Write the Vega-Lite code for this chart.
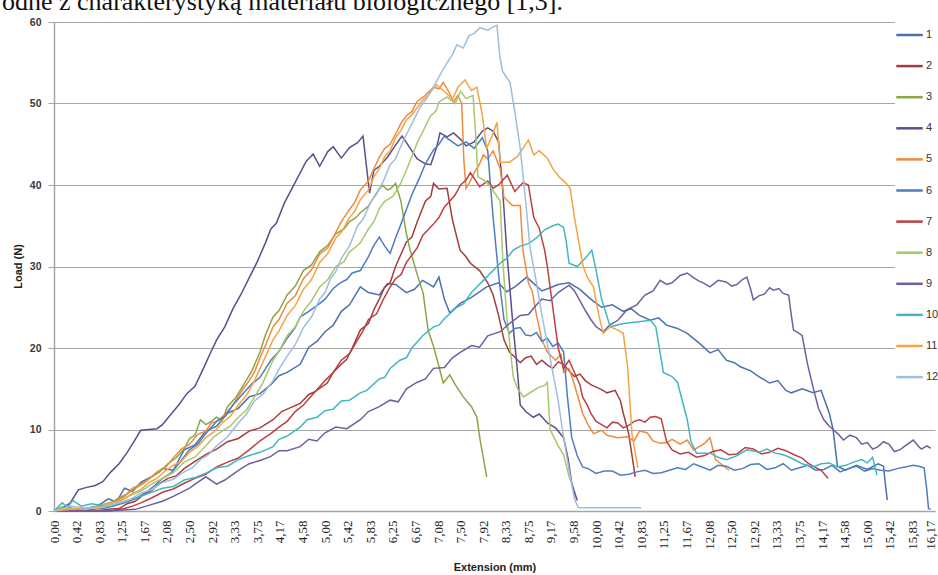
{
"$schema": "https://vega.github.io/schema/vega-lite/v6.json",
"width": 881, "height": 489,
"autosize": {"type": "none"},
"padding": {"left": 54, "top": 22, "right": 3, "bottom": 64},
"background": "white",
"config": {"view": {"stroke": null}, "title": {"font": "Liberation Serif", "fontSize": 26, "fontWeight": "normal", "color": "#111111"}},
"title": {"text": "odne z charakterystyką materiału biologicznego [1,3].", "anchor": "start", "frame": "group", "dx": -52, "dy": 25, "offset": 6, "baseline": "alphabetic", "font": "Liberation Serif", "fontSize": 26, "fontWeight": "normal", "color": "#111111", "limit": 0},
"data": {"values": [
{"s":"1","x":0,"y":0},{"s":"1","x":0.3,"y":0.1},{"s":"1","x":0.5,"y":0.2},{"s":"1","x":0.8,"y":0.6},{"s":"1","x":1.0,"y":1.5},{"s":"1","x":1.15,"y":1.1},{"s":"1","x":1.3,"y":2.8},{"s":"1","x":1.45,"y":2.4},{"s":"1","x":1.6,"y":3.5},{"s":"1","x":1.8,"y":4.2},{"s":"1","x":2.0,"y":5.2},{"s":"1","x":2.2,"y":5.0},{"s":"1","x":2.4,"y":7.5},{"s":"1","x":2.6,"y":8.1},{"s":"1","x":2.8,"y":9.8},{"s":"1","x":3.0,"y":10.4},{"s":"1","x":3.2,"y":12.0},{"s":"1","x":3.4,"y":12.6},{"s":"1","x":3.6,"y":14.0},{"s":"1","x":3.8,"y":14.4},{"s":"1","x":4.0,"y":15.5},{"s":"1","x":4.15,"y":16.6},{"s":"1","x":4.3,"y":17.0},{"s":"1","x":4.54,"y":18.0},{"s":"1","x":4.7,"y":20.1},{"s":"1","x":4.85,"y":20.8},{"s":"1","x":5.0,"y":22.0},{"s":"1","x":5.15,"y":22.8},{"s":"1","x":5.3,"y":24.5},{"s":"1","x":5.45,"y":25.3},{"s":"1","x":5.65,"y":27.5},{"s":"1","x":5.8,"y":26.8},{"s":"1","x":6.0,"y":26.5},{"s":"1","x":6.15,"y":27.9},{"s":"1","x":6.3,"y":27.8},{"s":"1","x":6.5,"y":26.8},{"s":"1","x":6.65,"y":27.2},{"s":"1","x":6.8,"y":28.3},{"s":"1","x":7.0,"y":27.5},{"s":"1","x":7.1,"y":28.7},{"s":"1","x":7.2,"y":26.0},{"s":"1","x":7.3,"y":24.3},{"s":"1","x":7.4,"y":24.9},{"s":"1","x":7.5,"y":25.5},{"s":"1","x":7.7,"y":26.2},{"s":"1","x":7.98,"y":27.5},{"s":"1","x":8.2,"y":28.0},{"s":"1","x":8.35,"y":26.9},{"s":"1","x":8.5,"y":27.5},{"s":"1","x":8.72,"y":28.7},{"s":"1","x":8.85,"y":27.9},{"s":"1","x":9.0,"y":27.0},{"s":"1","x":9.15,"y":27.4},{"s":"1","x":9.3,"y":27.8},{"s":"1","x":9.5,"y":28.0},{"s":"1","x":9.7,"y":27.2},{"s":"1","x":9.9,"y":26.0},{"s":"1","x":10.1,"y":25.0},{"s":"1","x":10.3,"y":25.3},{"s":"1","x":10.5,"y":24.5},{"s":"1","x":10.65,"y":24.8},{"s":"1","x":10.8,"y":24.0},{"s":"1","x":11.0,"y":23.4},{"s":"1","x":11.15,"y":23.7},{"s":"1","x":11.3,"y":22.8},{"s":"1","x":11.5,"y":22.4},{"s":"1","x":11.68,"y":21.8},{"s":"1","x":11.9,"y":20.6},{"s":"1","x":12.1,"y":19.4},{"s":"1","x":12.25,"y":19.8},{"s":"1","x":12.4,"y":18.5},{"s":"1","x":12.55,"y":18.2},{"s":"1","x":12.66,"y":17.7},{"s":"1","x":12.85,"y":17.2},{"s":"1","x":13.0,"y":16.5},{"s":"1","x":13.2,"y":15.7},{"s":"1","x":13.35,"y":16.0},{"s":"1","x":13.5,"y":14.8},{"s":"1","x":13.6,"y":14.5},{"s":"1","x":13.8,"y":15.0},{"s":"1","x":14.0,"y":14.5},{"s":"1","x":14.15,"y":14.8},{"s":"1","x":14.3,"y":12.0},{"s":"1","x":14.37,"y":10.0},{"s":"1","x":14.45,"y":5.5},{"s":"1","x":14.6,"y":5.0},{"s":"1","x":14.8,"y":5.6},{"s":"1","x":15.0,"y":5.1},{"s":"1","x":15.2,"y":5.8},{"s":"1","x":15.3,"y":5.5},{"s":"1","x":15.34,"y":3.0},{"s":"1","x":15.37,"y":1.35},
{"s":"2","x":0,"y":0},{"s":"2","x":0.8,"y":0},{"s":"2","x":1.0,"y":0.2},{"s":"2","x":1.2,"y":0.3},{"s":"2","x":1.35,"y":0.9},{"s":"2","x":1.5,"y":1.2},{"s":"2","x":1.65,"y":2.0},{"s":"2","x":1.8,"y":2.5},{"s":"2","x":1.95,"y":3.4},{"s":"2","x":2.1,"y":4.0},{"s":"2","x":2.25,"y":4.3},{"s":"2","x":2.4,"y":5.2},{"s":"2","x":2.6,"y":6.1},{"s":"2","x":2.82,"y":7.0},{"s":"2","x":3.0,"y":7.6},{"s":"2","x":3.2,"y":8.5},{"s":"2","x":3.4,"y":8.9},{"s":"2","x":3.6,"y":9.8},{"s":"2","x":3.8,"y":10.2},{"s":"2","x":4.04,"y":11.2},{"s":"2","x":4.2,"y":12.2},{"s":"2","x":4.3,"y":12.5},{"s":"2","x":4.54,"y":13.2},{"s":"2","x":4.7,"y":14.3},{"s":"2","x":4.8,"y":14.6},{"s":"2","x":5.04,"y":15.7},{"s":"2","x":5.15,"y":17.0},{"s":"2","x":5.3,"y":18.0},{"s":"2","x":5.4,"y":18.6},{"s":"2","x":5.5,"y":20.0},{"s":"2","x":5.65,"y":22.2},{"s":"2","x":5.8,"y":23.0},{"s":"2","x":5.9,"y":24.7},{"s":"2","x":6.0,"y":26.0},{"s":"2","x":6.1,"y":27.5},{"s":"2","x":6.2,"y":28.0},{"s":"2","x":6.3,"y":30.0},{"s":"2","x":6.4,"y":31.5},{"s":"2","x":6.5,"y":33.0},{"s":"2","x":6.6,"y":33.6},{"s":"2","x":6.7,"y":35.5},{"s":"2","x":6.85,"y":38.0},{"s":"2","x":6.95,"y":38.6},{"s":"2","x":7.0,"y":40.2},{"s":"2","x":7.1,"y":39.5},{"s":"2","x":7.25,"y":39.6},{"s":"2","x":7.35,"y":35.7},{"s":"2","x":7.49,"y":32.0},{"s":"2","x":7.6,"y":31.2},{"s":"2","x":7.68,"y":30.4},{"s":"2","x":7.85,"y":29.5},{"s":"2","x":8.0,"y":28.0},{"s":"2","x":8.1,"y":26.5},{"s":"2","x":8.2,"y":24.0},{"s":"2","x":8.3,"y":21.0},{"s":"2","x":8.4,"y":19.5},{"s":"2","x":8.5,"y":18.9},{"s":"2","x":8.6,"y":18.2},{"s":"2","x":8.7,"y":18.8},{"s":"2","x":8.8,"y":19.0},{"s":"2","x":8.9,"y":18.0},{"s":"2","x":9.0,"y":18.5},{"s":"2","x":9.1,"y":17.9},{"s":"2","x":9.2,"y":17.5},{"s":"2","x":9.3,"y":18.3},{"s":"2","x":9.4,"y":18.0},{"s":"2","x":9.5,"y":17.2},{"s":"2","x":9.6,"y":16.5},{"s":"2","x":9.7,"y":16.8},{"s":"2","x":9.8,"y":16.0},{"s":"2","x":9.9,"y":15.5},{"s":"2","x":10.0,"y":15.2},{"s":"2","x":10.1,"y":14.9},{"s":"2","x":10.2,"y":14.5},{"s":"2","x":10.35,"y":14.8},{"s":"2","x":10.45,"y":13.5},{"s":"2","x":10.5,"y":12.0},{"s":"2","x":10.6,"y":9.5},{"s":"2","x":10.68,"y":6.0},{"s":"2","x":10.72,"y":4.2},
{"s":"3","x":0,"y":0},{"s":"3","x":0.15,"y":0.5},{"s":"3","x":0.3,"y":0.4},{"s":"3","x":0.45,"y":0.1},{"s":"3","x":0.6,"y":0.2},{"s":"3","x":0.75,"y":0.5},{"s":"3","x":0.9,"y":0.8},{"s":"3","x":1.05,"y":1.0},{"s":"3","x":1.2,"y":1.6},{"s":"3","x":1.35,"y":2.1},{"s":"3","x":1.5,"y":2.8},{"s":"3","x":1.65,"y":3.4},{"s":"3","x":1.8,"y":4.2},{"s":"3","x":1.95,"y":4.8},{"s":"3","x":2.1,"y":5.8},{"s":"3","x":2.25,"y":6.5},{"s":"3","x":2.4,"y":7.6},{"s":"3","x":2.5,"y":8.9},{"s":"3","x":2.6,"y":9.3},{"s":"3","x":2.7,"y":11.2},{"s":"3","x":2.8,"y":10.6},{"s":"3","x":2.9,"y":11.0},{"s":"3","x":3.0,"y":11.5},{"s":"3","x":3.1,"y":11.1},{"s":"3","x":3.2,"y":12.8},{"s":"3","x":3.35,"y":13.9},{"s":"3","x":3.5,"y":15.5},{"s":"3","x":3.65,"y":17.2},{"s":"3","x":3.8,"y":19.5},{"s":"3","x":3.9,"y":21.6},{"s":"3","x":4.04,"y":23.8},{"s":"3","x":4.15,"y":24.6},{"s":"3","x":4.3,"y":26.5},{"s":"3","x":4.45,"y":27.6},{"s":"3","x":4.6,"y":29.5},{"s":"3","x":4.75,"y":30.2},{"s":"3","x":4.9,"y":31.8},{"s":"3","x":5.05,"y":32.6},{"s":"3","x":5.2,"y":34.0},{"s":"3","x":5.35,"y":34.6},{"s":"3","x":5.45,"y":35.5},{"s":"3","x":5.55,"y":35.9},{"s":"3","x":5.65,"y":36.6},{"s":"3","x":5.8,"y":37.4},{"s":"3","x":5.9,"y":38.5},{"s":"3","x":6.05,"y":40.0},{"s":"3","x":6.15,"y":39.4},{"s":"3","x":6.2,"y":39.5},{"s":"3","x":6.3,"y":40.2},{"s":"3","x":6.4,"y":38.0},{"s":"3","x":6.5,"y":34.0},{"s":"3","x":6.57,"y":32.0},{"s":"3","x":6.7,"y":29.0},{"s":"3","x":6.81,"y":26.7},{"s":"3","x":6.9,"y":22.2},{"s":"3","x":7.0,"y":20.2},{"s":"3","x":7.07,"y":18.5},{"s":"3","x":7.18,"y":15.7},{"s":"3","x":7.3,"y":16.7},{"s":"3","x":7.4,"y":15.5},{"s":"3","x":7.55,"y":14.0},{"s":"3","x":7.7,"y":12.8},{"s":"3","x":7.8,"y":11.5},{"s":"3","x":7.86,"y":8.7},{"s":"3","x":7.92,"y":6.5},{"s":"3","x":7.98,"y":4.2},
{"s":"4","x":0,"y":0},{"s":"4","x":0.15,"y":0.3},{"s":"4","x":0.3,"y":1.0},{"s":"4","x":0.45,"y":2.6},{"s":"4","x":0.6,"y":2.9},{"s":"4","x":0.75,"y":3.1},{"s":"4","x":0.9,"y":3.6},{"s":"4","x":1.05,"y":4.8},{"s":"4","x":1.2,"y":5.8},{"s":"4","x":1.35,"y":7.2},{"s":"4","x":1.5,"y":8.8},{"s":"4","x":1.6,"y":9.9},{"s":"4","x":1.75,"y":10.0},{"s":"4","x":1.9,"y":10.1},{"s":"4","x":2.0,"y":10.6},{"s":"4","x":2.15,"y":11.8},{"s":"4","x":2.3,"y":13.0},{"s":"4","x":2.45,"y":14.4},{"s":"4","x":2.6,"y":15.3},{"s":"4","x":2.75,"y":17.4},{"s":"4","x":2.9,"y":19.6},{"s":"4","x":3.0,"y":21.0},{"s":"4","x":3.15,"y":22.6},{"s":"4","x":3.3,"y":24.8},{"s":"4","x":3.45,"y":26.6},{"s":"4","x":3.6,"y":28.6},{"s":"4","x":3.75,"y":30.6},{"s":"4","x":3.9,"y":32.9},{"s":"4","x":4.0,"y":34.6},{"s":"4","x":4.1,"y":35.3},{"s":"4","x":4.25,"y":37.8},{"s":"4","x":4.4,"y":39.7},{"s":"4","x":4.55,"y":41.6},{"s":"4","x":4.65,"y":42.9},{"s":"4","x":4.78,"y":43.8},{"s":"4","x":4.9,"y":42.3},{"s":"4","x":5.05,"y":44.1},{"s":"4","x":5.15,"y":44.7},{"s":"4","x":5.3,"y":43.3},{"s":"4","x":5.45,"y":44.6},{"s":"4","x":5.6,"y":45.2},{"s":"4","x":5.7,"y":46.0},{"s":"4","x":5.76,"y":42.5},{"s":"4","x":5.82,"y":39.0},{"s":"4","x":5.9,"y":41.8},{"s":"4","x":6.0,"y":42.3},{"s":"4","x":6.15,"y":43.4},{"s":"4","x":6.3,"y":44.9},{"s":"4","x":6.42,"y":46.0},{"s":"4","x":6.55,"y":44.7},{"s":"4","x":6.7,"y":43.2},{"s":"4","x":6.85,"y":42.6},{"s":"4","x":6.95,"y":42.5},{"s":"4","x":7.06,"y":44.7},{"s":"4","x":7.12,"y":46.4},{"s":"4","x":7.25,"y":45.9},{"s":"4","x":7.37,"y":46.4},{"s":"4","x":7.5,"y":45.6},{"s":"4","x":7.6,"y":44.8},{"s":"4","x":7.75,"y":45.3},{"s":"4","x":7.9,"y":46.6},{"s":"4","x":8.0,"y":47.0},{"s":"4","x":8.1,"y":46.6},{"s":"4","x":8.2,"y":45.3},{"s":"4","x":8.27,"y":40.0},{"s":"4","x":8.35,"y":32.0},{"s":"4","x":8.45,"y":24.0},{"s":"4","x":8.55,"y":17.0},{"s":"4","x":8.6,"y":13.0},{"s":"4","x":8.7,"y":12.2},{"s":"4","x":8.84,"y":11.5},{"s":"4","x":8.95,"y":11.9},{"s":"4","x":9.1,"y":10.8},{"s":"4","x":9.25,"y":10.2},{"s":"4","x":9.4,"y":9.0},{"s":"4","x":9.48,"y":6.5},{"s":"4","x":9.55,"y":3.4},{"s":"4","x":9.65,"y":1.3},
{"s":"5","x":0,"y":0},{"s":"5","x":0.3,"y":0.1},{"s":"5","x":0.5,"y":0.1},{"s":"5","x":0.8,"y":0.5},{"s":"5","x":1.0,"y":1.0},{"s":"5","x":1.15,"y":1.2},{"s":"5","x":1.3,"y":1.8},{"s":"5","x":1.45,"y":2.8},{"s":"5","x":1.6,"y":3.3},{"s":"5","x":1.75,"y":3.9},{"s":"5","x":1.9,"y":4.8},{"s":"5","x":2.05,"y":5.3},{"s":"5","x":2.2,"y":6.5},{"s":"5","x":2.35,"y":7.6},{"s":"5","x":2.5,"y":8.2},{"s":"5","x":2.65,"y":9.4},{"s":"5","x":2.8,"y":9.8},{"s":"5","x":2.9,"y":10.8},{"s":"5","x":3.0,"y":11.0},{"s":"5","x":3.15,"y":11.8},{"s":"5","x":3.3,"y":13.0},{"s":"5","x":3.45,"y":14.6},{"s":"5","x":3.6,"y":16.0},{"s":"5","x":3.7,"y":17.1},{"s":"5","x":3.8,"y":18.8},{"s":"5","x":3.9,"y":20.3},{"s":"5","x":4.04,"y":22.6},{"s":"5","x":4.15,"y":23.5},{"s":"5","x":4.3,"y":25.5},{"s":"5","x":4.45,"y":26.4},{"s":"5","x":4.6,"y":28.5},{"s":"5","x":4.75,"y":29.6},{"s":"5","x":4.9,"y":31.5},{"s":"5","x":5.05,"y":32.3},{"s":"5","x":5.2,"y":34.2},{"s":"5","x":5.3,"y":35.5},{"s":"5","x":5.45,"y":37.0},{"s":"5","x":5.55,"y":37.9},{"s":"5","x":5.65,"y":39.4},{"s":"5","x":5.8,"y":40.5},{"s":"5","x":5.9,"y":42.0},{"s":"5","x":6.0,"y":43.4},{"s":"5","x":6.1,"y":44.5},{"s":"5","x":6.2,"y":45.0},{"s":"5","x":6.32,"y":46.5},{"s":"5","x":6.4,"y":47.6},{"s":"5","x":6.5,"y":48.5},{"s":"5","x":6.6,"y":49.0},{"s":"5","x":6.69,"y":50.2},{"s":"5","x":6.85,"y":51.0},{"s":"5","x":7.0,"y":52.0},{"s":"5","x":7.1,"y":51.8},{"s":"5","x":7.18,"y":52.6},{"s":"5","x":7.3,"y":51.2},{"s":"5","x":7.37,"y":50.2},{"s":"5","x":7.45,"y":51.0},{"s":"5","x":7.52,"y":50.0},{"s":"5","x":7.56,"y":43.0},{"s":"5","x":7.6,"y":39.6},{"s":"5","x":7.68,"y":40.5},{"s":"5","x":7.75,"y":41.5},{"s":"5","x":7.85,"y":42.6},{"s":"5","x":7.92,"y":43.7},{"s":"5","x":8.0,"y":43.2},{"s":"5","x":8.1,"y":44.2},{"s":"5","x":8.23,"y":42.0},{"s":"5","x":8.3,"y":38.5},{"s":"5","x":8.45,"y":37.5},{"s":"5","x":8.6,"y":37.5},{"s":"5","x":8.65,"y":32.0},{"s":"5","x":8.75,"y":28.0},{"s":"5","x":8.82,"y":27.0},{"s":"5","x":8.9,"y":24.0},{"s":"5","x":9.0,"y":21.0},{"s":"5","x":9.1,"y":19.5},{"s":"5","x":9.25,"y":18.5},{"s":"5","x":9.35,"y":19.2},{"s":"5","x":9.4,"y":17.0},{"s":"5","x":9.5,"y":17.5},{"s":"5","x":9.6,"y":15.5},{"s":"5","x":9.75,"y":12.0},{"s":"5","x":9.85,"y":10.6},{"s":"5","x":9.95,"y":9.5},{"s":"5","x":10.1,"y":9.9},{"s":"5","x":10.2,"y":9.3},{"s":"5","x":10.4,"y":9.0},{"s":"5","x":10.57,"y":9.1},{"s":"5","x":10.7,"y":8.6},{"s":"5","x":10.8,"y":9.8},{"s":"5","x":10.94,"y":9.6},{"s":"5","x":11.05,"y":8.6},{"s":"5","x":11.18,"y":8.3},{"s":"5","x":11.3,"y":8.4},{"s":"5","x":11.4,"y":8.8},{"s":"5","x":11.55,"y":8.2},{"s":"5","x":11.68,"y":8.7},{"s":"5","x":11.8,"y":7.5},{"s":"5","x":11.9,"y":7.9},{"s":"5","x":12.0,"y":8.3},{"s":"5","x":12.1,"y":9.0},{"s":"5","x":12.2,"y":6.3},{"s":"5","x":12.3,"y":5.8},{"s":"5","x":12.45,"y":5.0},
{"s":"6","x":0,"y":0},{"s":"6","x":0.5,"y":0.1},{"s":"6","x":0.9,"y":0.3},{"s":"6","x":1.1,"y":0.6},{"s":"6","x":1.3,"y":1.0},{"s":"6","x":1.5,"y":1.5},{"s":"6","x":1.7,"y":2.3},{"s":"6","x":1.85,"y":3.1},{"s":"6","x":2.0,"y":4.0},{"s":"6","x":2.15,"y":4.6},{"s":"6","x":2.3,"y":5.8},{"s":"6","x":2.5,"y":7.5},{"s":"6","x":2.65,"y":8.2},{"s":"6","x":2.8,"y":9.5},{"s":"6","x":3.0,"y":11.0},{"s":"6","x":3.15,"y":11.6},{"s":"6","x":3.3,"y":13.0},{"s":"6","x":3.5,"y":14.5},{"s":"6","x":3.65,"y":15.6},{"s":"6","x":3.8,"y":16.4},{"s":"6","x":4.0,"y":18.5},{"s":"6","x":4.15,"y":19.6},{"s":"6","x":4.3,"y":21.2},{"s":"6","x":4.45,"y":22.5},{"s":"6","x":4.54,"y":23.8},{"s":"6","x":4.7,"y":24.5},{"s":"6","x":4.85,"y":25.2},{"s":"6","x":5.0,"y":26.0},{"s":"6","x":5.15,"y":27.3},{"s":"6","x":5.28,"y":28.0},{"s":"6","x":5.4,"y":28.4},{"s":"6","x":5.5,"y":29.2},{"s":"6","x":5.65,"y":29.5},{"s":"6","x":5.8,"y":31.2},{"s":"6","x":5.9,"y":32.6},{"s":"6","x":6.0,"y":33.6},{"s":"6","x":6.1,"y":32.5},{"s":"6","x":6.2,"y":31.6},{"s":"6","x":6.3,"y":33.5},{"s":"6","x":6.4,"y":35.2},{"s":"6","x":6.5,"y":37.0},{"s":"6","x":6.6,"y":38.8},{"s":"6","x":6.75,"y":41.0},{"s":"6","x":6.85,"y":42.6},{"s":"6","x":7.0,"y":44.3},{"s":"6","x":7.1,"y":45.0},{"s":"6","x":7.2,"y":46.0},{"s":"6","x":7.3,"y":45.5},{"s":"6","x":7.45,"y":44.8},{"s":"6","x":7.6,"y":45.3},{"s":"6","x":7.75,"y":44.5},{"s":"6","x":7.9,"y":45.8},{"s":"6","x":8.0,"y":44.2},{"s":"6","x":8.05,"y":40.0},{"s":"6","x":8.1,"y":36.0},{"s":"6","x":8.2,"y":29.0},{"s":"6","x":8.3,"y":23.5},{"s":"6","x":8.4,"y":21.8},{"s":"6","x":8.5,"y":22.4},{"s":"6","x":8.6,"y":22.5},{"s":"6","x":8.7,"y":21.6},{"s":"6","x":8.8,"y":21.5},{"s":"6","x":8.9,"y":21.9},{"s":"6","x":9.0,"y":20.8},{"s":"6","x":9.1,"y":21.2},{"s":"6","x":9.2,"y":20.2},{"s":"6","x":9.3,"y":20.6},{"s":"6","x":9.4,"y":19.5},{"s":"6","x":9.47,"y":14.0},{"s":"6","x":9.55,"y":9.0},{"s":"6","x":9.65,"y":6.8},{"s":"6","x":9.75,"y":5.4},{"s":"6","x":9.85,"y":5.2},{"s":"6","x":10.0,"y":4.6},{"s":"6","x":10.15,"y":4.9},{"s":"6","x":10.3,"y":4.9},{"s":"6","x":10.45,"y":4.4},{"s":"6","x":10.6,"y":4.5},{"s":"6","x":10.75,"y":4.8},{"s":"6","x":10.9,"y":5.0},{"s":"6","x":11.05,"y":4.6},{"s":"6","x":11.2,"y":4.7},{"s":"6","x":11.35,"y":5.0},{"s":"6","x":11.5,"y":5.3},{"s":"6","x":11.65,"y":5.1},{"s":"6","x":11.8,"y":5.8},{"s":"6","x":11.95,"y":5.4},{"s":"6","x":12.1,"y":5.0},{"s":"6","x":12.25,"y":5.6},{"s":"6","x":12.4,"y":5.5},{"s":"6","x":12.55,"y":5.0},{"s":"6","x":12.7,"y":5.2},{"s":"6","x":12.85,"y":5.7},{"s":"6","x":13.0,"y":5.8},{"s":"6","x":13.15,"y":5.1},{"s":"6","x":13.3,"y":5.3},{"s":"6","x":13.45,"y":5.8},{"s":"6","x":13.6,"y":5.0},{"s":"6","x":13.75,"y":5.3},{"s":"6","x":13.9,"y":5.6},{"s":"6","x":14.05,"y":5.0},{"s":"6","x":14.2,"y":5.1},{"s":"6","x":14.35,"y":5.6},{"s":"6","x":14.5,"y":4.8},{"s":"6","x":14.65,"y":5.2},{"s":"6","x":14.8,"y":5.5},{"s":"6","x":14.95,"y":4.9},{"s":"6","x":15.1,"y":5.2},{"s":"6","x":15.25,"y":5.0},{"s":"6","x":15.4,"y":4.9},{"s":"6","x":15.55,"y":5.2},{"s":"6","x":15.7,"y":5.4},{"s":"6","x":15.85,"y":5.6},{"s":"6","x":15.95,"y":5.5},{"s":"6","x":16.05,"y":5.3},{"s":"6","x":16.1,"y":2.5},{"s":"6","x":16.13,"y":0.3},{"s":"6","x":16.17,"y":0.2},
{"s":"7","x":0,"y":0},{"s":"7","x":1.0,"y":0},{"s":"7","x":1.3,"y":0.3},{"s":"7","x":1.45,"y":0.6},{"s":"7","x":1.6,"y":1.0},{"s":"7","x":1.8,"y":1.6},{"s":"7","x":2.0,"y":2.3},{"s":"7","x":2.2,"y":2.7},{"s":"7","x":2.4,"y":3.4},{"s":"7","x":2.6,"y":4.0},{"s":"7","x":2.8,"y":4.5},{"s":"7","x":3.0,"y":5.4},{"s":"7","x":3.2,"y":6.0},{"s":"7","x":3.4,"y":6.5},{"s":"7","x":3.6,"y":7.5},{"s":"7","x":3.8,"y":8.6},{"s":"7","x":4.0,"y":9.5},{"s":"7","x":4.15,"y":10.3},{"s":"7","x":4.3,"y":11.0},{"s":"7","x":4.45,"y":12.2},{"s":"7","x":4.6,"y":13.0},{"s":"7","x":4.8,"y":14.5},{"s":"7","x":5.0,"y":16.0},{"s":"7","x":5.15,"y":17.0},{"s":"7","x":5.3,"y":18.5},{"s":"7","x":5.45,"y":19.3},{"s":"7","x":5.6,"y":21.0},{"s":"7","x":5.7,"y":22.1},{"s":"7","x":5.8,"y":23.5},{"s":"7","x":5.95,"y":24.2},{"s":"7","x":6.07,"y":25.9},{"s":"7","x":6.2,"y":27.5},{"s":"7","x":6.3,"y":28.5},{"s":"7","x":6.4,"y":29.0},{"s":"7","x":6.5,"y":30.5},{"s":"7","x":6.6,"y":31.4},{"s":"7","x":6.7,"y":32.3},{"s":"7","x":6.8,"y":33.8},{"s":"7","x":6.9,"y":34.5},{"s":"7","x":7.0,"y":35.2},{"s":"7","x":7.1,"y":36.0},{"s":"7","x":7.2,"y":37.3},{"s":"7","x":7.3,"y":38.0},{"s":"7","x":7.4,"y":38.8},{"s":"7","x":7.5,"y":40.0},{"s":"7","x":7.6,"y":40.6},{"s":"7","x":7.68,"y":41.5},{"s":"7","x":7.78,"y":40.5},{"s":"7","x":7.85,"y":39.8},{"s":"7","x":8.0,"y":40.5},{"s":"7","x":8.1,"y":39.6},{"s":"7","x":8.2,"y":40.0},{"s":"7","x":8.36,"y":41.2},{"s":"7","x":8.5,"y":39.2},{"s":"7","x":8.65,"y":40.3},{"s":"7","x":8.75,"y":40.0},{"s":"7","x":8.85,"y":36.0},{"s":"7","x":8.95,"y":34.7},{"s":"7","x":9.05,"y":32.0},{"s":"7","x":9.1,"y":30.0},{"s":"7","x":9.2,"y":25.0},{"s":"7","x":9.3,"y":20.0},{"s":"7","x":9.4,"y":17.5},{"s":"7","x":9.5,"y":18.5},{"s":"7","x":9.6,"y":17.0},{"s":"7","x":9.7,"y":15.5},{"s":"7","x":9.75,"y":14.0},{"s":"7","x":9.85,"y":12.8},{"s":"7","x":9.9,"y":12.0},{"s":"7","x":10.0,"y":11.0},{"s":"7","x":10.1,"y":10.6},{"s":"7","x":10.2,"y":10.2},{"s":"7","x":10.3,"y":10.9},{"s":"7","x":10.4,"y":10.8},{"s":"7","x":10.5,"y":10.2},{"s":"7","x":10.6,"y":10.5},{"s":"7","x":10.7,"y":11.0},{"s":"7","x":10.8,"y":11.2},{"s":"7","x":10.9,"y":10.9},{"s":"7","x":11.0,"y":11.5},{"s":"7","x":11.1,"y":11.6},{"s":"7","x":11.2,"y":11.3},{"s":"7","x":11.3,"y":8.5},{"s":"7","x":11.4,"y":7.5},{"s":"7","x":11.55,"y":7.0},{"s":"7","x":11.7,"y":7.2},{"s":"7","x":11.85,"y":6.6},{"s":"7","x":12.0,"y":6.8},{"s":"7","x":12.15,"y":7.3},{"s":"7","x":12.3,"y":7.5},{"s":"7","x":12.45,"y":6.9},{"s":"7","x":12.6,"y":7.0},{"s":"7","x":12.75,"y":7.8},{"s":"7","x":12.9,"y":7.6},{"s":"7","x":13.05,"y":7.0},{"s":"7","x":13.2,"y":7.2},{"s":"7","x":13.35,"y":7.7},{"s":"7","x":13.5,"y":7.4},{"s":"7","x":13.65,"y":6.9},{"s":"7","x":13.8,"y":6.5},{"s":"7","x":13.9,"y":5.9},{"s":"7","x":14.0,"y":5.5},{"s":"7","x":14.15,"y":5.0},{"s":"7","x":14.28,"y":4.0},
{"s":"8","x":0,"y":0},{"s":"8","x":0.2,"y":0.3},{"s":"8","x":0.4,"y":0.3},{"s":"8","x":0.6,"y":0.2},{"s":"8","x":0.8,"y":0.6},{"s":"8","x":1.0,"y":0.9},{"s":"8","x":1.2,"y":1.2},{"s":"8","x":1.4,"y":1.9},{"s":"8","x":1.6,"y":2.4},{"s":"8","x":1.8,"y":3.3},{"s":"8","x":2.0,"y":4.0},{"s":"8","x":2.2,"y":4.7},{"s":"8","x":2.4,"y":6.0},{"s":"8","x":2.6,"y":6.6},{"s":"8","x":2.8,"y":8.0},{"s":"8","x":2.95,"y":9.1},{"s":"8","x":3.1,"y":9.8},{"s":"8","x":3.25,"y":10.4},{"s":"8","x":3.4,"y":11.5},{"s":"8","x":3.55,"y":12.4},{"s":"8","x":3.7,"y":14.0},{"s":"8","x":3.85,"y":15.7},{"s":"8","x":4.04,"y":18.5},{"s":"8","x":4.15,"y":19.6},{"s":"8","x":4.3,"y":21.5},{"s":"8","x":4.45,"y":22.6},{"s":"8","x":4.6,"y":24.5},{"s":"8","x":4.75,"y":25.8},{"s":"8","x":4.9,"y":27.5},{"s":"8","x":5.05,"y":28.4},{"s":"8","x":5.2,"y":30.0},{"s":"8","x":5.35,"y":30.6},{"s":"8","x":5.45,"y":31.8},{"s":"8","x":5.55,"y":32.3},{"s":"8","x":5.65,"y":32.9},{"s":"8","x":5.8,"y":34.6},{"s":"8","x":5.9,"y":35.5},{"s":"8","x":6.0,"y":37.1},{"s":"8","x":6.1,"y":38.0},{"s":"8","x":6.25,"y":38.6},{"s":"8","x":6.38,"y":40.0},{"s":"8","x":6.5,"y":41.8},{"s":"8","x":6.6,"y":43.5},{"s":"8","x":6.7,"y":45.2},{"s":"8","x":6.8,"y":46.5},{"s":"8","x":6.88,"y":47.6},{"s":"8","x":6.95,"y":48.5},{"s":"8","x":7.05,"y":49.1},{"s":"8","x":7.1,"y":50.2},{"s":"8","x":7.25,"y":50.8},{"s":"8","x":7.4,"y":50.0},{"s":"8","x":7.5,"y":51.5},{"s":"8","x":7.6,"y":50.6},{"s":"8","x":7.73,"y":51.0},{"s":"8","x":7.78,"y":46.0},{"s":"8","x":7.82,"y":41.0},{"s":"8","x":7.95,"y":40.5},{"s":"8","x":8.05,"y":39.8},{"s":"8","x":8.15,"y":38.8},{"s":"8","x":8.23,"y":38.0},{"s":"8","x":8.28,"y":30.5},{"s":"8","x":8.35,"y":24.0},{"s":"8","x":8.47,"y":16.5},{"s":"8","x":8.55,"y":15.0},{"s":"8","x":8.66,"y":14.0},{"s":"8","x":8.8,"y":14.6},{"s":"8","x":8.95,"y":15.2},{"s":"8","x":9.05,"y":15.4},{"s":"8","x":9.1,"y":15.8},{"s":"8","x":9.15,"y":10.0},{"s":"8","x":9.3,"y":8.0},{"s":"8","x":9.4,"y":6.9},{"s":"8","x":9.45,"y":5.5},{"s":"8","x":9.52,"y":3.8},
{"s":"9","x":0,"y":0},{"s":"9","x":1.0,"y":0},{"s":"9","x":1.5,"y":0.2},{"s":"9","x":1.7,"y":0.6},{"s":"9","x":2.0,"y":1.2},{"s":"9","x":2.2,"y":1.8},{"s":"9","x":2.5,"y":2.8},{"s":"9","x":2.65,"y":3.5},{"s":"9","x":2.8,"y":4.2},{"s":"9","x":3.0,"y":3.3},{"s":"9","x":3.15,"y":3.8},{"s":"9","x":3.3,"y":4.5},{"s":"9","x":3.45,"y":5.2},{"s":"9","x":3.6,"y":5.8},{"s":"9","x":3.8,"y":6.2},{"s":"9","x":4.0,"y":6.7},{"s":"9","x":4.15,"y":7.4},{"s":"9","x":4.3,"y":7.4},{"s":"9","x":4.54,"y":7.9},{"s":"9","x":4.7,"y":8.8},{"s":"9","x":4.85,"y":8.6},{"s":"9","x":5.0,"y":9.6},{"s":"9","x":5.2,"y":10.3},{"s":"9","x":5.4,"y":10.1},{"s":"9","x":5.65,"y":11.2},{"s":"9","x":5.8,"y":12.2},{"s":"9","x":6.0,"y":12.8},{"s":"9","x":6.2,"y":13.6},{"s":"9","x":6.35,"y":13.4},{"s":"9","x":6.5,"y":15.0},{"s":"9","x":6.7,"y":15.8},{"s":"9","x":6.85,"y":16.2},{"s":"9","x":7.0,"y":17.5},{"s":"9","x":7.2,"y":17.6},{"s":"9","x":7.35,"y":18.8},{"s":"9","x":7.5,"y":19.5},{"s":"9","x":7.7,"y":20.3},{"s":"9","x":7.85,"y":20.1},{"s":"9","x":8.0,"y":21.5},{"s":"9","x":8.23,"y":22.0},{"s":"9","x":8.4,"y":23.0},{"s":"9","x":8.6,"y":24.0},{"s":"9","x":8.75,"y":24.1},{"s":"9","x":8.9,"y":25.3},{"s":"9","x":9.0,"y":26.0},{"s":"9","x":9.15,"y":25.8},{"s":"9","x":9.3,"y":26.8},{"s":"9","x":9.5,"y":27.7},{"s":"9","x":9.6,"y":27.0},{"s":"9","x":9.7,"y":25.8},{"s":"9","x":9.8,"y":24.6},{"s":"9","x":9.9,"y":23.5},{"s":"9","x":10.0,"y":22.6},{"s":"9","x":10.13,"y":22.0},{"s":"9","x":10.25,"y":22.8},{"s":"9","x":10.4,"y":23.4},{"s":"9","x":10.57,"y":24.7},{"s":"9","x":10.75,"y":25.3},{"s":"9","x":10.9,"y":26.5},{"s":"9","x":11.05,"y":27.0},{"s":"9","x":11.18,"y":28.3},{"s":"9","x":11.3,"y":27.8},{"s":"9","x":11.4,"y":28.0},{"s":"9","x":11.55,"y":28.9},{"s":"9","x":11.68,"y":29.2},{"s":"9","x":11.8,"y":28.6},{"s":"9","x":11.9,"y":28.2},{"s":"9","x":12.0,"y":27.9},{"s":"9","x":12.1,"y":27.5},{"s":"9","x":12.25,"y":28.3},{"s":"9","x":12.4,"y":28.1},{"s":"9","x":12.5,"y":27.6},{"s":"9","x":12.6,"y":27.8},{"s":"9","x":12.7,"y":28.4},{"s":"9","x":12.78,"y":28.7},{"s":"9","x":12.85,"y":27.2},{"s":"9","x":12.9,"y":25.9},{"s":"9","x":13.0,"y":26.4},{"s":"9","x":13.1,"y":26.6},{"s":"9","x":13.2,"y":27.4},{"s":"9","x":13.27,"y":27.1},{"s":"9","x":13.37,"y":27.3},{"s":"9","x":13.45,"y":26.7},{"s":"9","x":13.55,"y":26.5},{"s":"9","x":13.6,"y":24.0},{"s":"9","x":13.64,"y":22.2},{"s":"9","x":13.72,"y":21.9},{"s":"9","x":13.8,"y":21.5},{"s":"9","x":13.9,"y":18.0},{"s":"9","x":14.0,"y":15.2},{"s":"9","x":14.1,"y":12.6},{"s":"9","x":14.2,"y":11.2},{"s":"9","x":14.3,"y":10.4},{"s":"9","x":14.37,"y":10.0},{"s":"9","x":14.47,"y":9.4},{"s":"9","x":14.56,"y":8.7},{"s":"9","x":14.68,"y":9.3},{"s":"9","x":14.8,"y":9.0},{"s":"9","x":14.9,"y":8.2},{"s":"9","x":15.0,"y":8.4},{"s":"9","x":15.1,"y":7.6},{"s":"9","x":15.2,"y":7.9},{"s":"9","x":15.3,"y":8.5},{"s":"9","x":15.4,"y":8.2},{"s":"9","x":15.5,"y":7.3},{"s":"9","x":15.6,"y":7.5},{"s":"9","x":15.7,"y":8.0},{"s":"9","x":15.85,"y":8.7},{"s":"9","x":15.95,"y":7.9},{"s":"9","x":16.0,"y":7.6},{"s":"9","x":16.1,"y":8.0},{"s":"9","x":16.17,"y":7.7},
{"s":"10","x":0,"y":0},{"s":"10","x":0.15,"y":1.0},{"s":"10","x":0.25,"y":0.5},{"s":"10","x":0.35,"y":1.3},{"s":"10","x":0.5,"y":0.6},{"s":"10","x":0.7,"y":0.9},{"s":"10","x":1.0,"y":0.5},{"s":"10","x":1.3,"y":1.2},{"s":"10","x":1.6,"y":1.8},{"s":"10","x":2.0,"y":2.8},{"s":"10","x":2.2,"y":3.0},{"s":"10","x":2.4,"y":3.8},{"s":"10","x":2.6,"y":4.1},{"s":"10","x":2.82,"y":4.7},{"s":"10","x":3.0,"y":5.3},{"s":"10","x":3.2,"y":5.5},{"s":"10","x":3.4,"y":6.3},{"s":"10","x":3.6,"y":6.8},{"s":"10","x":3.8,"y":7.2},{"s":"10","x":4.04,"y":7.9},{"s":"10","x":4.15,"y":8.8},{"s":"10","x":4.3,"y":9.2},{"s":"10","x":4.54,"y":10.3},{"s":"10","x":4.67,"y":11.2},{"s":"10","x":4.85,"y":11.5},{"s":"10","x":5.0,"y":12.3},{"s":"10","x":5.15,"y":12.5},{"s":"10","x":5.3,"y":13.5},{"s":"10","x":5.45,"y":13.6},{"s":"10","x":5.65,"y":14.5},{"s":"10","x":5.77,"y":14.8},{"s":"10","x":6.0,"y":16.2},{"s":"10","x":6.1,"y":16.4},{"s":"10","x":6.2,"y":17.5},{"s":"10","x":6.38,"y":18.5},{"s":"10","x":6.5,"y":18.8},{"s":"10","x":6.6,"y":20.0},{"s":"10","x":6.8,"y":21.5},{"s":"10","x":7.0,"y":22.6},{"s":"10","x":7.1,"y":22.8},{"s":"10","x":7.2,"y":23.6},{"s":"10","x":7.43,"y":25.0},{"s":"10","x":7.55,"y":25.4},{"s":"10","x":7.7,"y":26.8},{"s":"10","x":7.92,"y":28.3},{"s":"10","x":8.1,"y":29.5},{"s":"10","x":8.23,"y":30.4},{"s":"10","x":8.35,"y":31.0},{"s":"10","x":8.47,"y":32.0},{"s":"10","x":8.6,"y":32.5},{"s":"10","x":8.75,"y":32.8},{"s":"10","x":8.9,"y":33.5},{"s":"10","x":9.05,"y":34.5},{"s":"10","x":9.2,"y":35.0},{"s":"10","x":9.3,"y":35.2},{"s":"10","x":9.4,"y":34.8},{"s":"10","x":9.45,"y":33.0},{"s":"10","x":9.5,"y":30.4},{"s":"10","x":9.65,"y":30.0},{"s":"10","x":9.8,"y":31.0},{"s":"10","x":9.92,"y":32.0},{"s":"10","x":10.0,"y":29.5},{"s":"10","x":10.1,"y":26.0},{"s":"10","x":10.26,"y":22.6},{"s":"10","x":10.5,"y":23.0},{"s":"10","x":10.75,"y":23.2},{"s":"10","x":11.0,"y":23.4},{"s":"10","x":11.1,"y":22.6},{"s":"10","x":11.24,"y":17.0},{"s":"10","x":11.4,"y":16.5},{"s":"10","x":11.5,"y":15.8},{"s":"10","x":11.68,"y":11.2},{"s":"10","x":11.75,"y":8.5},{"s":"10","x":11.85,"y":7.1},{"s":"10","x":12.1,"y":7.1},{"s":"10","x":12.25,"y":6.6},{"s":"10","x":12.4,"y":6.3},{"s":"10","x":12.6,"y":6.8},{"s":"10","x":12.78,"y":7.5},{"s":"10","x":13.0,"y":7.2},{"s":"10","x":13.15,"y":7.6},{"s":"10","x":13.3,"y":7.1},{"s":"10","x":13.45,"y":6.9},{"s":"10","x":13.6,"y":6.5},{"s":"10","x":13.8,"y":5.8},{"s":"10","x":14.0,"y":5.4},{"s":"10","x":14.15,"y":5.8},{"s":"10","x":14.3,"y":5.9},{"s":"10","x":14.45,"y":5.4},{"s":"10","x":14.6,"y":5.6},{"s":"10","x":14.75,"y":6.0},{"s":"10","x":14.9,"y":6.3},{"s":"10","x":15.0,"y":5.9},{"s":"10","x":15.1,"y":6.6},{"s":"10","x":15.18,"y":4.4},
{"s":"11","x":0,"y":0},{"s":"11","x":0.3,"y":0.2},{"s":"11","x":0.6,"y":0.4},{"s":"11","x":0.8,"y":0.3},{"s":"11","x":1.0,"y":0.8},{"s":"11","x":1.15,"y":1.1},{"s":"11","x":1.3,"y":1.5},{"s":"11","x":1.45,"y":2.2},{"s":"11","x":1.6,"y":2.6},{"s":"11","x":1.75,"y":3.5},{"s":"11","x":1.9,"y":4.0},{"s":"11","x":2.05,"y":4.9},{"s":"11","x":2.2,"y":5.6},{"s":"11","x":2.35,"y":6.1},{"s":"11","x":2.5,"y":7.2},{"s":"11","x":2.65,"y":7.9},{"s":"11","x":2.8,"y":9.0},{"s":"11","x":2.95,"y":9.7},{"s":"11","x":3.1,"y":10.8},{"s":"11","x":3.25,"y":11.6},{"s":"11","x":3.4,"y":13.0},{"s":"11","x":3.55,"y":14.2},{"s":"11","x":3.7,"y":16.0},{"s":"11","x":3.85,"y":18.2},{"s":"11","x":4.04,"y":21.0},{"s":"11","x":4.15,"y":22.1},{"s":"11","x":4.3,"y":24.0},{"s":"11","x":4.45,"y":25.2},{"s":"11","x":4.6,"y":27.2},{"s":"11","x":4.75,"y":28.4},{"s":"11","x":4.9,"y":30.5},{"s":"11","x":5.05,"y":31.6},{"s":"11","x":5.2,"y":33.5},{"s":"11","x":5.3,"y":34.2},{"s":"11","x":5.45,"y":36.0},{"s":"11","x":5.55,"y":36.8},{"s":"11","x":5.65,"y":38.2},{"s":"11","x":5.8,"y":39.4},{"s":"11","x":5.9,"y":41.0},{"s":"11","x":6.0,"y":42.0},{"s":"11","x":6.1,"y":43.5},{"s":"11","x":6.2,"y":44.2},{"s":"11","x":6.3,"y":45.8},{"s":"11","x":6.4,"y":46.7},{"s":"11","x":6.5,"y":48.0},{"s":"11","x":6.6,"y":48.6},{"s":"11","x":6.7,"y":49.5},{"s":"11","x":6.8,"y":50.4},{"s":"11","x":6.9,"y":51.0},{"s":"11","x":7.05,"y":52.3},{"s":"11","x":7.2,"y":51.5},{"s":"11","x":7.35,"y":50.5},{"s":"11","x":7.45,"y":52.0},{"s":"11","x":7.58,"y":52.9},{"s":"11","x":7.7,"y":51.6},{"s":"11","x":7.8,"y":52.0},{"s":"11","x":7.9,"y":48.6},{"s":"11","x":7.98,"y":44.5},{"s":"11","x":8.08,"y":46.0},{"s":"11","x":8.17,"y":47.7},{"s":"11","x":8.23,"y":42.8},{"s":"11","x":8.4,"y":42.8},{"s":"11","x":8.55,"y":43.5},{"s":"11","x":8.75,"y":45.5},{"s":"11","x":8.85,"y":43.7},{"s":"11","x":8.95,"y":44.2},{"s":"11","x":9.1,"y":43.3},{"s":"11","x":9.2,"y":42.0},{"s":"11","x":9.33,"y":40.9},{"s":"11","x":9.45,"y":40.2},{"s":"11","x":9.52,"y":39.6},{"s":"11","x":9.6,"y":36.0},{"s":"11","x":9.76,"y":30.0},{"s":"11","x":9.85,"y":28.5},{"s":"11","x":9.95,"y":27.5},{"s":"11","x":10.05,"y":24.0},{"s":"11","x":10.13,"y":21.8},{"s":"11","x":10.26,"y":22.6},{"s":"11","x":10.4,"y":22.2},{"s":"11","x":10.5,"y":21.8},{"s":"11","x":10.58,"y":17.7},{"s":"11","x":10.66,"y":9.5},{"s":"11","x":10.77,"y":5.3},
{"s":"12","x":0,"y":0},{"s":"12","x":0.3,"y":0.6},{"s":"12","x":0.6,"y":0.3},{"s":"12","x":0.9,"y":0.5},{"s":"12","x":1.2,"y":1.0},{"s":"12","x":1.4,"y":1.4},{"s":"12","x":1.6,"y":2.2},{"s":"12","x":1.8,"y":2.6},{"s":"12","x":2.0,"y":3.5},{"s":"12","x":2.2,"y":3.9},{"s":"12","x":2.4,"y":4.8},{"s":"12","x":2.55,"y":5.3},{"s":"12","x":2.7,"y":6.3},{"s":"12","x":2.85,"y":6.9},{"s":"12","x":3.0,"y":8.0},{"s":"12","x":3.2,"y":9.1},{"s":"12","x":3.43,"y":11.0},{"s":"12","x":3.55,"y":11.9},{"s":"12","x":3.7,"y":13.5},{"s":"12","x":3.85,"y":14.3},{"s":"12","x":4.04,"y":16.0},{"s":"12","x":4.15,"y":17.4},{"s":"12","x":4.3,"y":19.0},{"s":"12","x":4.45,"y":20.4},{"s":"12","x":4.6,"y":22.5},{"s":"12","x":4.75,"y":23.8},{"s":"12","x":4.9,"y":26.0},{"s":"12","x":5.0,"y":26.8},{"s":"12","x":5.1,"y":28.5},{"s":"12","x":5.2,"y":29.4},{"s":"12","x":5.3,"y":31.0},{"s":"12","x":5.45,"y":32.5},{"s":"12","x":5.6,"y":35.0},{"s":"12","x":5.7,"y":35.8},{"s":"12","x":5.85,"y":38.0},{"s":"12","x":5.95,"y":38.9},{"s":"12","x":6.07,"y":40.4},{"s":"12","x":6.2,"y":42.5},{"s":"12","x":6.3,"y":43.2},{"s":"12","x":6.38,"y":44.5},{"s":"12","x":6.5,"y":46.2},{"s":"12","x":6.6,"y":47.5},{"s":"12","x":6.75,"y":49.5},{"s":"12","x":6.88,"y":50.7},{"s":"12","x":7.0,"y":52.0},{"s":"12","x":7.12,"y":53.5},{"s":"12","x":7.25,"y":55.0},{"s":"12","x":7.35,"y":56.0},{"s":"12","x":7.43,"y":57.2},{"s":"12","x":7.55,"y":56.8},{"s":"12","x":7.65,"y":58.3},{"s":"12","x":7.75,"y":58.6},{"s":"12","x":7.86,"y":59.3},{"s":"12","x":8.0,"y":59.0},{"s":"12","x":8.1,"y":59.4},{"s":"12","x":8.17,"y":59.6},{"s":"12","x":8.22,"y":56.0},{"s":"12","x":8.27,"y":54.0},{"s":"12","x":8.41,"y":52.6},{"s":"12","x":8.5,"y":49.0},{"s":"12","x":8.6,"y":44.5},{"s":"12","x":8.7,"y":38.0},{"s":"12","x":8.78,"y":32.3},{"s":"12","x":8.9,"y":28.0},{"s":"12","x":9.0,"y":24.0},{"s":"12","x":9.1,"y":20.5},{"s":"12","x":9.2,"y":17.0},{"s":"12","x":9.3,"y":13.5},{"s":"12","x":9.4,"y":9.0},{"s":"12","x":9.5,"y":5.0},{"s":"12","x":9.6,"y":1.5},{"s":"12","x":9.67,"y":0.4},{"s":"12","x":10.0,"y":0.4},{"s":"12","x":10.5,"y":0.4},{"s":"12","x":10.83,"y":0.4}
]},
"mark": {"type": "line", "strokeWidth": 1.5},
"encoding": {
"x": {"field": "x", "type": "quantitative",
 "scale": {"domain": [0, 16.25], "nice": false, "zero": false},
 "axis": {"values": [0,0.41667,0.83333,1.25,1.66667,2.08333,2.5,2.91667,3.33333,3.75,4.16667,4.58333,5,5.41667,5.83333,6.25,6.66667,7.08333,7.5,7.91667,8.33333,8.75,9.16667,9.58333,10,10.41667,10.83333,11.25,11.66667,12.08333,12.5,12.91667,13.33333,13.75,14.16667,14.58333,15,15.41667,15.83333,16.16667],
  "labelExpr": "replace(format(datum.value, '.2f'), '.', ',')",
  "labelAngle": 270, "labelAlign": "right", "labelBaseline": "middle", "labelPadding": 9,
  "labelFont": "Liberation Serif", "labelFontSize": 13, "labelColor": "#222222", "labelOverlap": false,
  "ticks": false, "grid": false, "domainColor": "#a6a6a6", "domainWidth": 1.5,
  "title": "Extension (mm)", "titleFont": "Liberation Sans", "titleFontSize": 11, "titleFontWeight": "bold", "titleColor": "#222222", "titleY": 56, "titleBaseline": "middle"}},
"y": {"field": "y", "type": "quantitative",
 "scale": {"domain": [0, 60], "nice": false},
 "axis": {"values": [0,10,20,30,40,50,60], "grid": true, "gridColor": "#a6a6a6", "gridWidth": 1,
  "domainColor": "#a6a6a6", "domainWidth": 1.5, "tickColor": "#a6a6a6", "tickSize": 6, "labelPadding": 7,
  "labelFont": "Liberation Sans", "labelFontSize": 10.5, "labelFontWeight": "bold", "labelColor": "#3a3a3a",
  "title": "Load (N)", "titleFont": "Liberation Sans", "titleFontSize": 11, "titleFontWeight": "bold", "titleColor": "#222222",
  "titleX": -36, "titleY": 244, "titleAngle": 270, "titleAlign": "center", "titleBaseline": "middle"}},
"color": {"field": "s", "type": "nominal",
 "scale": {"domain": ["1","2","3","4","5","6","7","8","9","10","11","12"],
  "range": ["#4A71B0","#A33D3D","#8AA548","#5C4E8A","#EF8A3E","#4D7DC2","#BE3F3F","#A8C86C","#6E5FA0","#42B6C2","#F4A444","#9DBEDF"]},
 "legend": {"orient": "none", "legendX": 841, "legendY": -1.5, "title": null, "symbolType": "stroke", "symbolSize": 700, "symbolStrokeWidth": 2.5,
  "labelFont": "Liberation Sans", "labelFontSize": 11, "labelColor": "#333333", "rowPadding": 11.1, "labelOffset": 2, "fillColor": "white", "padding": 0}}
}
}
